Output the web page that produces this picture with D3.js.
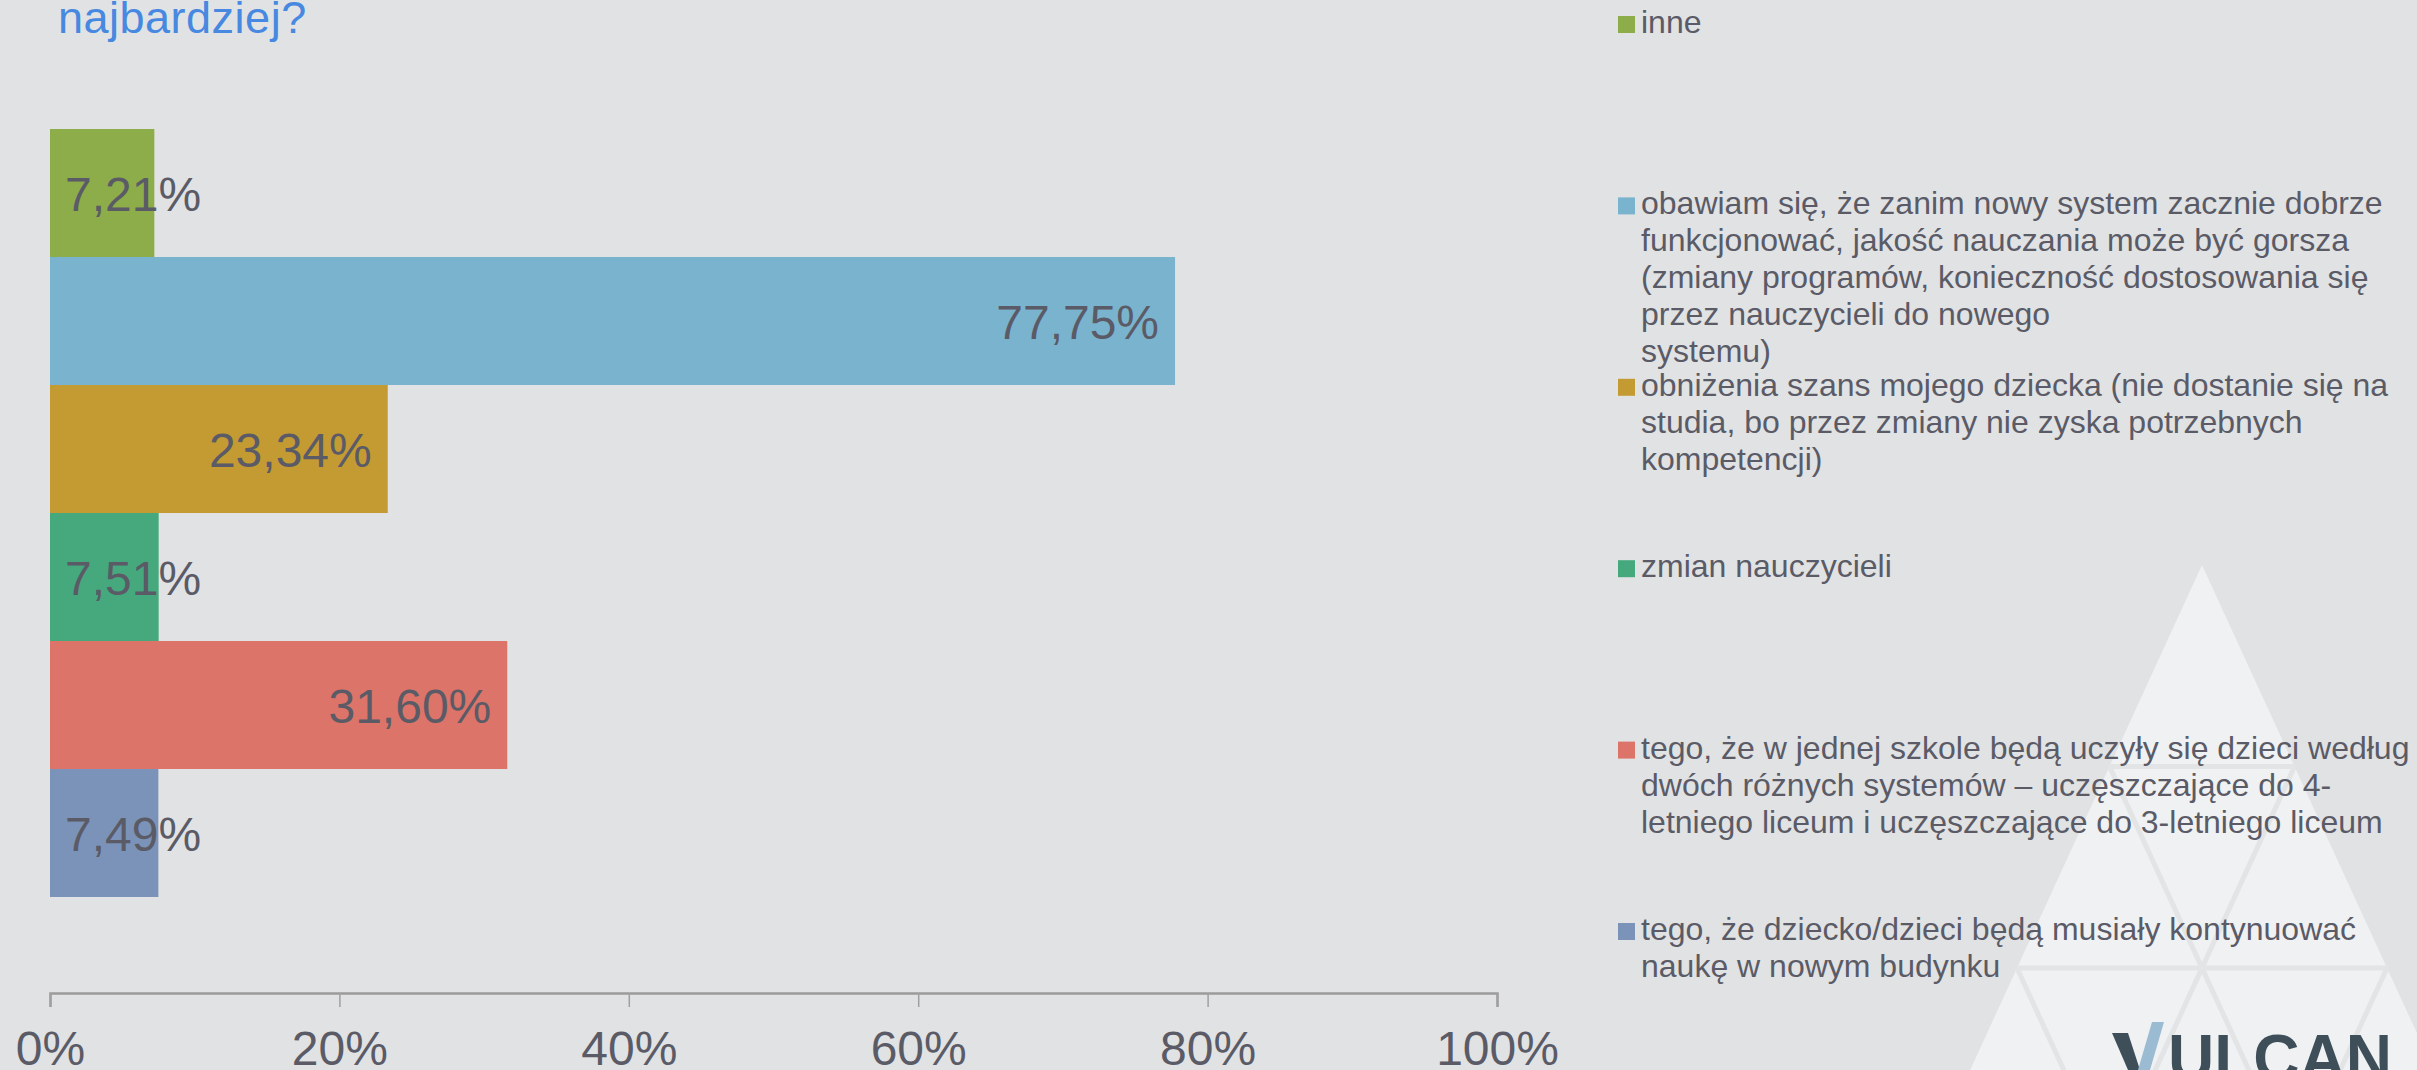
<!DOCTYPE html>
<html>
<head>
<meta charset="utf-8">
<script src="https://cdn.jsdelivr.net/npm/d3@7"></script>
<style>
  body { margin: 0; background: #E1E2E4; }
  svg { display: block; }
  text { font-family: "Liberation Sans", Arial, sans-serif; }
</style>
</head>
<body>
<svg id="chart" width="2417" height="1070"></svg>
<script>
// categories, top to bottom
let categories = [
  "inne",
  "obawiam się, że zanim nowy system zacznie dobrze funkcjonować, jakość nauczania może być gorsza (zmiany programów, konieczność dostosowania się przez nauczycieli do nowego systemu)",
  "obniżenia szans mojego dziecka (nie dostanie się na studia, bo przez zmiany nie zyska potrzebnych kompetencji)",
  "zmian nauczycieli",
  "tego, że w jednej szkole będą uczyły się dzieci według dwóch różnych systemów – uczęszczające do 4-letniego liceum i uczęszczające do 3-letniego liceum",
  "tego, że dziecko/dzieci będą musiały kontynuować naukę w nowym budynku"
];
let values = [7.21, 77.75, 23.34, 7.51, 31.60, 7.49];
let colors = ["#8DAC4A", "#7AB3CE", "#C49A33", "#46A97E", "#DC7469", "#7B93B8"];
// legend text as it wraps in the picture
let legendLines = [
  ["inne"],
  ["obawiam się, że zanim nowy system zacznie dobrze",
   "funkcjonować, jakość nauczania może być gorsza",
   "(zmiany programów, konieczność dostosowania się",
   "przez nauczycieli do nowego",
   "systemu)"],
  ["obniżenia szans mojego dziecka (nie dostanie się na",
   "studia, bo przez zmiany nie zyska potrzebnych",
   "kompetencji)"],
  ["zmian nauczycieli"],
  ["tego, że w jednej szkole będą uczyły się dzieci według",
   "dwóch różnych systemów – uczęszczające do 4-",
   "letniego liceum i uczęszczające do 3-letniego liceum"],
  ["tego, że dziecko/dzieci będą musiały kontynuować",
   "naukę w nowym budynku"]
];
let ticks = [0, 20, 40, 60, 80, 100];

let textCol = "#5A5B66";
let svg = d3.select("#chart");

// watermark triangle (logo)
let wm = svg.append("g");
let ax = 2202, ay = 565, rowH = 201.5, hw = 92.5;
wm.append("polygon")
  .attr("points", [[ax, ay], [ax - hw*3, ay + rowH*3], [ax + hw*3, ay + rowH*3]].join(" "))
  .attr("fill", "#F0F1F3");
let gridLines = [
  [[ax - hw, ay + rowH], [ax + hw, ay + rowH]],
  [[ax - hw*2, ay + rowH*2], [ax + hw*2, ay + rowH*2]],
  [[ax - hw, ay + rowH], [ax + hw, ay + rowH*3]],
  [[ax - hw*2, ay + rowH*2], [ax - hw, ay + rowH*3]],
  [[ax + hw, ay + rowH], [ax - hw, ay + rowH*3]],
  [[ax + hw*2, ay + rowH*2], [ax + hw, ay + rowH*3]]
];
wm.selectAll("line.grid").data(gridLines).enter().append("line")
  .attr("x1", d => d[0][0]).attr("y1", d => d[0][1])
  .attr("x2", d => d[1][0]).attr("y2", d => d[1][1])
  .attr("stroke", "#E3E4E6").attr("stroke-width", 5);
// VULCAN wordmark
wm.append("polygon")
  .attr("points", "2112,1033 2128,1033 2140,1070 2128,1070")
  .attr("fill", "#3E4F59");
wm.append("polygon")
  .attr("points", "2152,1022 2164,1022 2150,1070 2138,1070")
  .attr("fill", "#9BBBD3");
wm.append("text")
  .attr("x", 2168).attr("y", 1080)
  .attr("font-size", 64).attr("font-weight", "bold")
  .attr("fill", "#3E4F59")
  .text("ULCAN");

// title (only last line visible)
svg.append("text")
  .attr("x", 58).attr("y", 33)
  .attr("font-family", "'Open Sans', sans-serif")
  .attr("font-size", 45)
  .attr("letter-spacing", 0.5)
  .attr("fill", "#4788E0")
  .text("najbardziej?");

// scales
let x = d3.scaleLinear().domain([0, 100]).range([50, 1497]);
let y = d3.scaleBand().domain(categories).range([129, 897]).padding(0);

// bars
svg.append("g").selectAll("rect")
  .data(values)
  .enter().append("rect")
  .attr("x", x(0))
  .attr("y", (d, i) => y(categories[i]))
  .attr("width", d => x(d) - x(0))
  .attr("height", y.bandwidth())
  .attr("fill", (d, i) => colors[i]);

// value labels
let fmt = v => v.toFixed(2).replace(".", ",") + "%";
svg.append("g").selectAll("text")
  .data(values)
  .enter().append("text")
  .attr("y", (d, i) => y(categories[i]) + y.bandwidth() / 2 + 18)
  .attr("font-size", 48)
  .attr("fill", textCol)
  .text(fmt)
  .each(function(d) {
    let w = this.getComputedTextLength();
    let barW = x(d) - x(0);
    if (barW > w + 31) {
      d3.select(this).attr("x", x(d) - 16).attr("text-anchor", "end");
    } else {
      d3.select(this).attr("x", x(0) + 15).attr("text-anchor", "start");
    }
  });

// x axis
let xAxis = d3.axisBottom(x)
  .tickValues(ticks)
  .tickSize(14)
  .tickPadding(24)
  .tickFormat(d => d + "%");
let gx = svg.append("g")
  .attr("transform", "translate(0,993)")
  .call(xAxis);
gx.select(".domain").attr("stroke", "#9B9B9B").attr("stroke-width", 2.5);
gx.selectAll(".tick line").attr("stroke", "#A0A0A0").attr("stroke-width", 1.5);
gx.selectAll(".tick text")
  .attr("font-size", 48)
  .attr("font-family", "'Liberation Sans', Arial, sans-serif")
  .attr("fill", textCol)
  .attr("dy", "0.71em");

// legend
let lg = svg.append("g");
let items = lg.selectAll("g.item")
  .data(legendLines)
  .enter().append("g")
  .attr("class", "item")
  .attr("transform", (d, i) => "translate(1618," + (33 + i * 181.4) + ")");
items.append("rect")
  .attr("x", 0).attr("y", -17)
  .attr("width", 17).attr("height", 17)
  .attr("fill", (d, i) => colors[i]);
items.append("text")
  .attr("font-size", 32)
  .attr("fill", textCol)
  .selectAll("tspan")
  .data(d => d)
  .enter().append("tspan")
  .attr("x", 23)
  .attr("y", (d, j) => j * 37)
  .text(d => d);
</script>
</body>
</html>
